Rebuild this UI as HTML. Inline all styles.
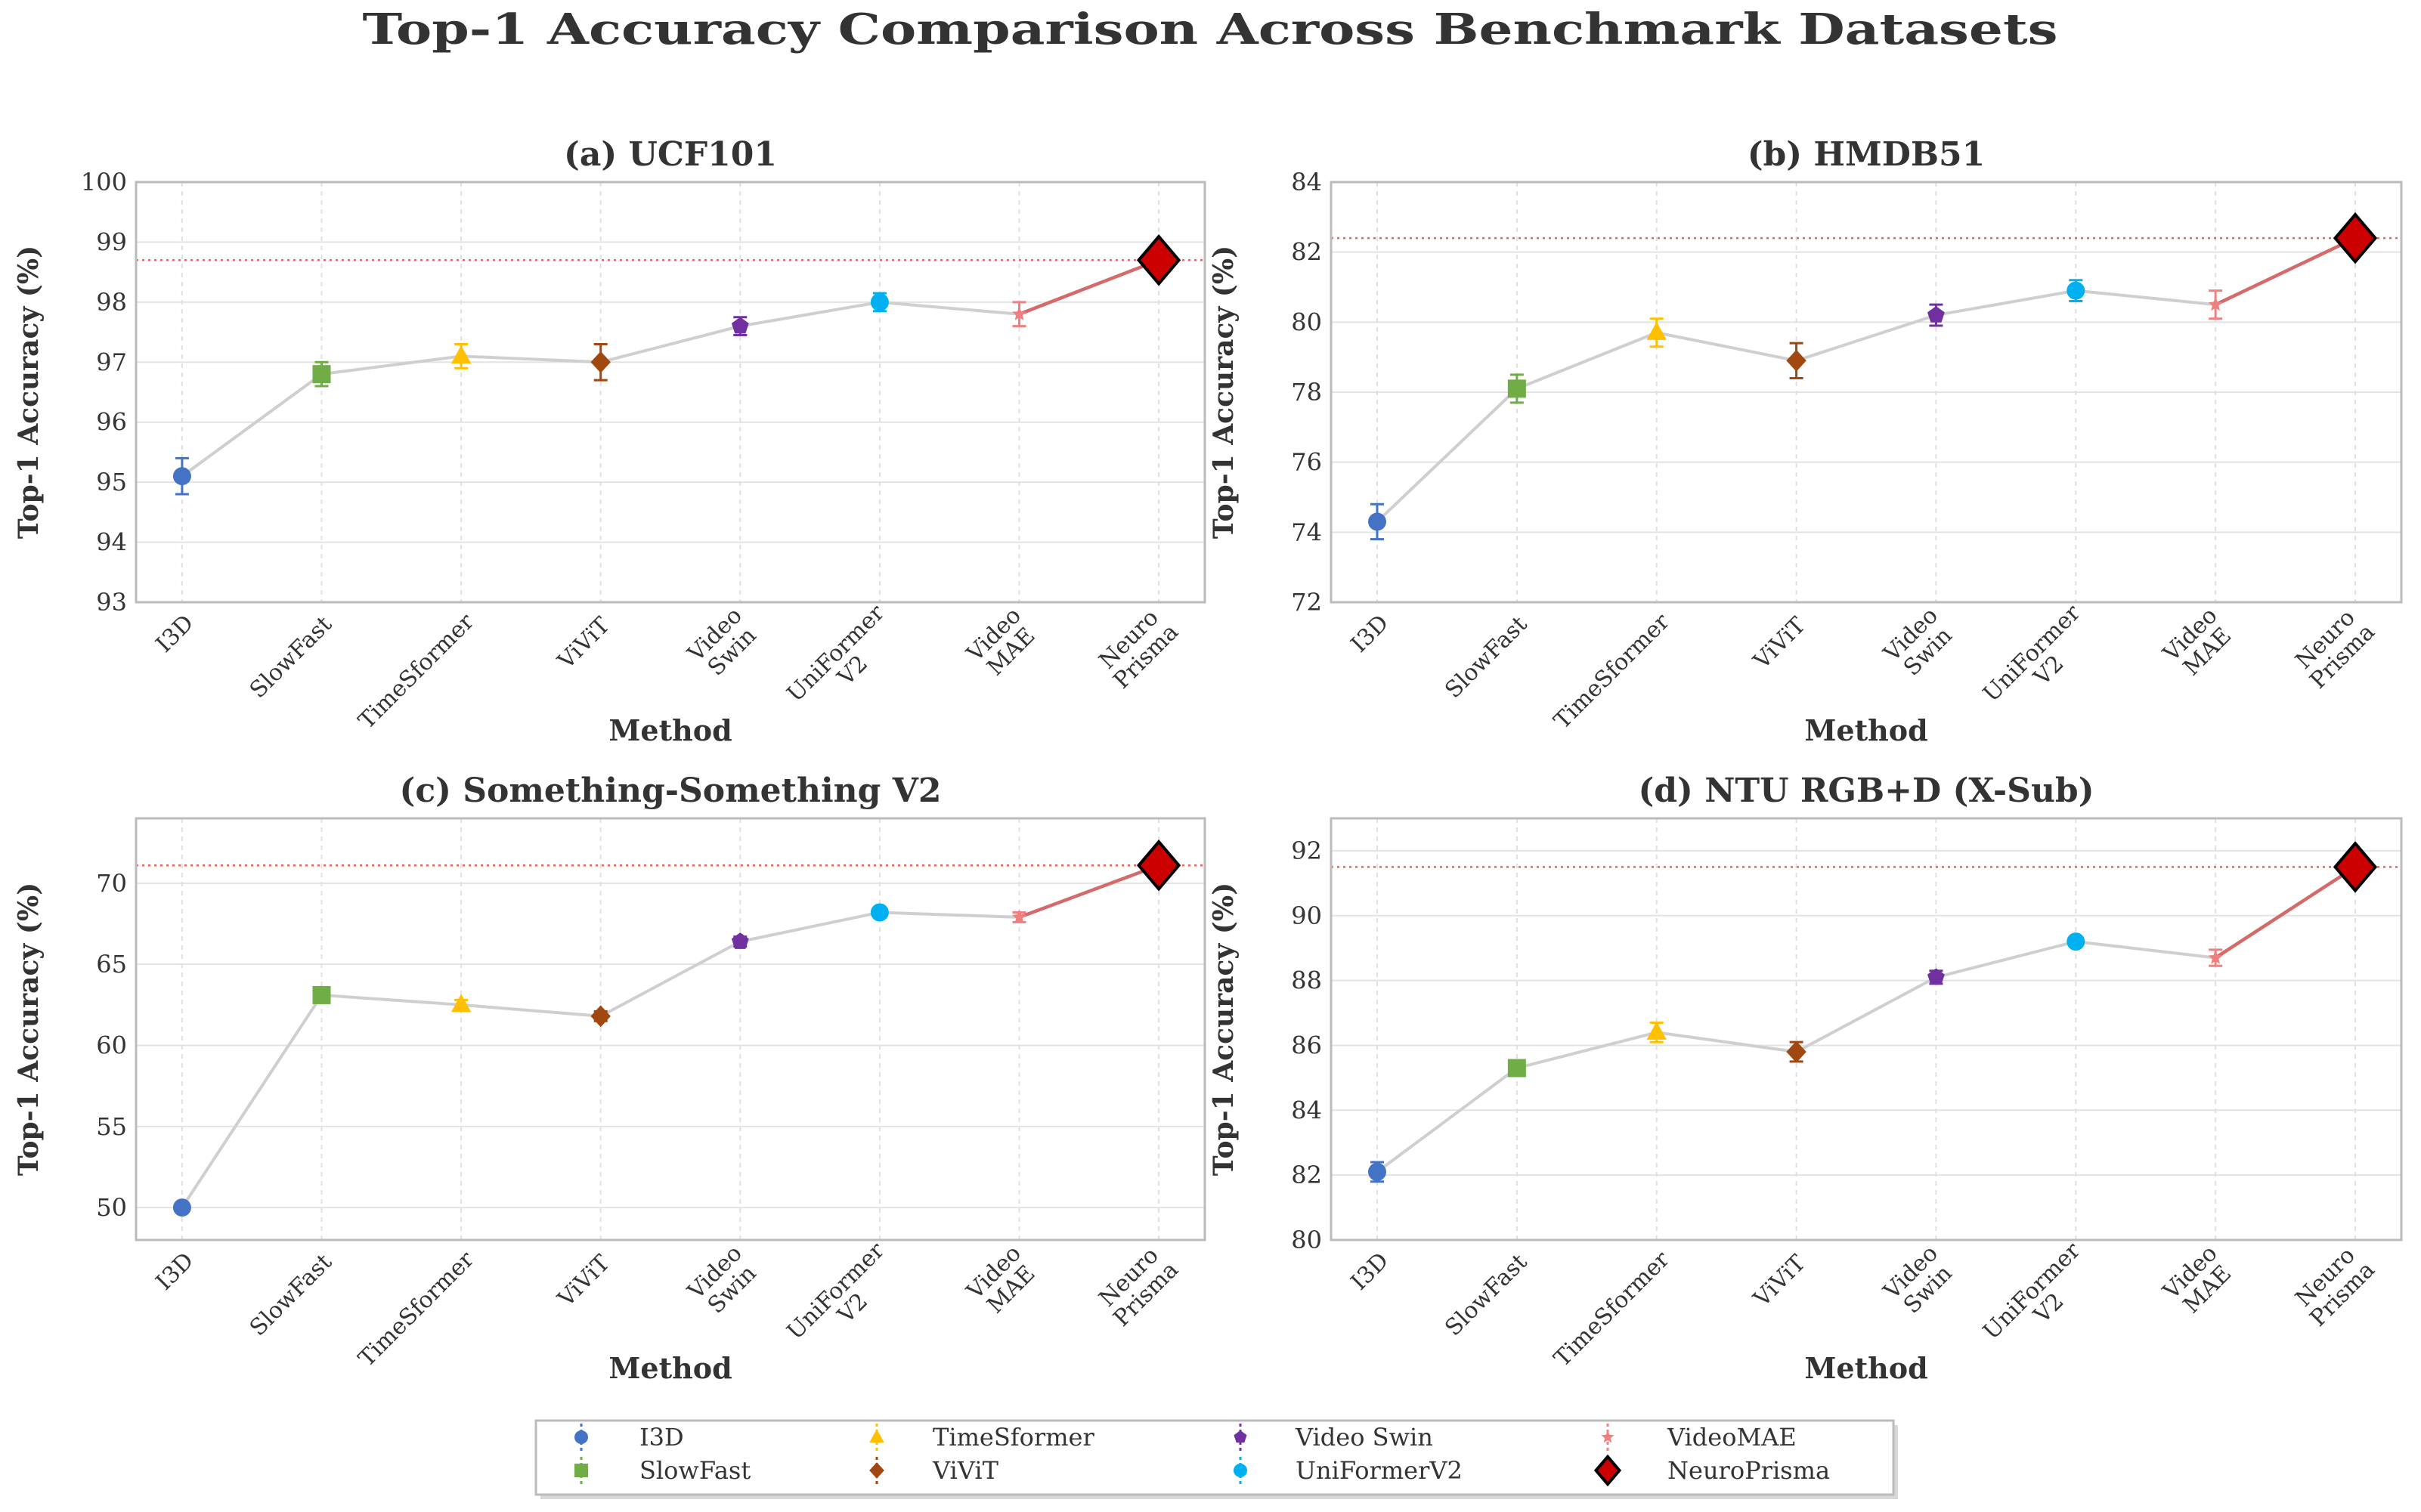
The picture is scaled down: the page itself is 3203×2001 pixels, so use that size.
<!DOCTYPE html>
<html><head><meta charset="utf-8"><style>
html,body{margin:0;padding:0;background:#fff;}
svg{display:block;font-family:"DejaVu Serif","Liberation Serif",serif;}
</style></head><body>
<svg id="fig" width="3203" height="2001" viewBox="0 0 3203 2001" xmlns="http://www.w3.org/2000/svg">
<rect width="3203" height="2001" fill="#fff"/>
<text x="1601" y="58" text-anchor="middle" font-size="56" font-weight="bold" fill="#333" textLength="2243" lengthAdjust="spacingAndGlyphs">Top-1 Accuracy Comparison Across Benchmark Datasets</text>
</svg>
<script>
const methods = ["I3D","SlowFast","TimeSformer","ViViT","Video Swin","UniFormerV2","VideoMAE","NeuroPrisma"];
const tickLabels = [["I3D"],["SlowFast"],["TimeSformer"],["ViViT"],["Video","Swin"],["UniFormer","V2"],["Video","MAE"],["Neuro","Prisma"]];
const panelTitles = ["(a) UCF101","(b) HMDB51","(c) Something-Something V2","(d) NTU RGB+D (X-Sub)"];
const ucfVals = [95.1,96.8,97.1,97.0,97.6,98.0,97.8,98.7];
const ucfErr = [0.3,0.2,0.2,0.3,0.15,0.15,0.2,0];
const hmdbVals = [74.3,78.1,79.7,78.9,80.2,80.9,80.5,82.4];
const hmdbErr = [0.5,0.4,0.4,0.5,0.3,0.3,0.4,0];
const sthVals = [50.0,63.1,62.5,61.8,66.4,68.2,67.9,71.1];
const sthErr = [0.3,0.3,0.3,0.3,0.3,0.3,0.3,0];
const ntuVals = [82.1,85.3,86.4,85.8,88.1,89.2,88.7,91.5];
const ntuErr = [0.3,0.2,0.3,0.3,0.2,0.15,0.25,0];
const ucfTicks = [93,94,95,96,97,98,99,100];
const hmdbTicks = [72,74,76,78,80,82,84];
const sthTicks = [50,55,60,65,70];
const ntuTicks = [80,82,84,86,88,90,92];
const colors = ["#4472C4","#70AD47","#FFC000","#A0480F","#7030A0","#00B0F0","#F08080","#CC0000"];

const NS="http://www.w3.org/2000/svg";
const svg=document.getElementById('fig');
function mk(tag,attrs,parent){const e=document.createElementNS(NS,tag);for(const k in attrs)e.setAttribute(k,attrs[k]);(parent||svg).appendChild(e);return e;}

function marker(g,i,cx,cy,s){
  const c=colors[i];let e;
  if(i===0||i===5){e=mk('circle',{cx:cx,cy:cy,r:s,fill:c},g);}
  else if(i===1){e=mk('rect',{x:cx-s,y:cy-s,width:2*s,height:2*s,fill:c},g);}
  else if(i===2){e=mk('polygon',{points:`${cx},${cy-s*1.2} ${cx-s*1.1},${cy+s*0.8} ${cx+s*1.1},${cy+s*0.8}`,fill:c},g);}
  else if(i===3){e=mk('polygon',{points:`${cx},${cy-s*1.2} ${cx+s*1.1},${cy} ${cx},${cy+s*1.2} ${cx-s*1.1},${cy}`,fill:c},g);}
  else if(i===4){let p=[];for(let k=0;k<5;k++){const a=-Math.PI/2+k*2*Math.PI/5;p.push((cx+s*Math.cos(a))+','+(cy+s*Math.sin(a)));}e=mk('polygon',{points:p.join(' '),fill:c},g);}
  else if(i===6){let p=[];for(let k=0;k<10;k++){const a=-Math.PI/2+k*Math.PI/5;const r=k%2?s*0.45:s;p.push((cx+r*Math.cos(a))+','+(cy+r*Math.sin(a)));}e=mk('polygon',{points:p.join(' '),fill:c},g);}
  else {const S=s*2.6;e=mk('polygon',{points:`${cx},${cy-S} ${cx+S*0.85},${cy} ${cx},${cy+S} ${cx-S*0.85},${cy}`,fill:c,stroke:"#000","stroke-width":4},g);}
  return e;
}

function panel(idx,L,T,R,B,ymin,ymax,ticks,vals,errs){
  const g=mk('g',{});
  
  
  const xs=i=>L+(R-L)*(i+0.33)/7.66;
  const ys=v=>B-(B-T)*(v-ymin)/(ymax-ymin);
  ticks.forEach(t=>{const l=mk('line',{x1:L,x2:R,y1:ys(t),y2:ys(t),stroke:"#e3e3e3","stroke-width":2},g);
    });
  methods.forEach((m,i)=>{const l=mk('line',{x1:xs(i),x2:xs(i),y1:T,y2:B,stroke:"#e0e0e0","stroke-width":2,"stroke-dasharray":"6,6"},g);
    });
  const bl=mk('line',{x1:L,x2:R,y1:ys(vals[7]),y2:ys(vals[7]),stroke:"#E06666","stroke-width":2.5,"stroke-dasharray":"3,5"},g);
  
  const fr=mk('rect',{x:L,y:T,width:R-L,height:B-T,fill:"none",stroke:"#bbb","stroke-width":3},g);
  
  let pts=[];for(let i=0;i<7;i++)pts.push(xs(i)+','+ys(vals[i]));
  const pl=mk('polyline',{points:pts.join(' '),fill:"none",stroke:"#cfcfcf","stroke-width":4},g);
  
  const rl=mk('line',{x1:xs(6),y1:ys(vals[6]),x2:xs(7),y2:ys(vals[7]),stroke:"#D46A6A","stroke-width":4.5},g);
  
  methods.forEach((m,i)=>{
    const cx=xs(i),cy=ys(vals[i]);
    if(errs[i]>0){const e1=ys(vals[i]+errs[i]),e2=ys(vals[i]-errs[i]);
      const eb=mk('path',{d:`M${cx},${e1}V${e2}M${cx-9},${e1}H${cx+9}M${cx-9},${e2}H${cx+9}`,stroke:colors[i],"stroke-width":3,fill:"none"},g);
      }
    const mm=marker(g,i,cx,cy,i===6?10:12);
    
    
  });
  ticks.forEach(t=>{const tx=mk('text',{x:L-12,y:ys(t)+11,"text-anchor":"end","font-size":32,fill:"#333"},g);tx.textContent=t;
    });
  tickLabels.forEach((lines,i)=>{
    const x=xs(i)+6,y=B+20;
    const tx=mk('text',{"font-size":30,fill:"#333"},g);
    lines.forEach((ln,k)=>{const ts=mk('tspan',{x:0,dy:k===0?(lines.length>1?-2:14):32,"text-anchor":"middle"},tx);ts.textContent=ln;});
    tx.setAttribute('transform',`translate(${x},${y}) rotate(-45) translate(${-(Math.max(...lines.map(s=>s.length))*8.8)},0)`);
    
  });
  const tt=mk('text',{x:(L+R)/2,y:T-22,"text-anchor":"middle","font-size":44,"font-weight":"bold",fill:"#333"},g);tt.textContent=panelTitles[idx];
  
  const yl=mk('text',{transform:`translate(${L-130},${(T+B)/2}) rotate(-90)`,"text-anchor":"middle","font-size":36,"font-weight":"bold",fill:"#333"},g);yl.textContent="Top-1 Accuracy (%)";
  
  const xl=mk('text',{x:(L+R)/2,y:B+183,"text-anchor":"middle","font-size":38,"font-weight":"bold",fill:"#333"},g);xl.textContent="Method";
  
}
panel(0,180,241,1594,797,93,100,ucfTicks,ucfVals,ucfErr);
panel(1,1761,241,3177,797,72,84,hmdbTicks,hmdbVals,hmdbErr);
panel(2,180,1083,1594,1641,48,74,sthTicks,sthVals,sthErr);
panel(3,1761,1083,3177,1641,80,93,ntuTicks,ntuVals,ntuErr);

const lg=mk('g',{});


mk('rect',{x:715,y:1886,width:1796,height:98,fill:"#d8d8d8"},lg);
mk('rect',{x:709,y:1880,width:1796,height:98,fill:"#fff",stroke:"#bbb","stroke-width":3},lg);
const colX=[769,1160,1641,2127],textX=[846,1234,1714,2206],rowY=[1902,1946];
methods.forEach((m,i)=>{
  const c=Math.floor(i/2),r=i%2;
  const cx=colX[c],cy=rowY[r];
  const it=mk('g',{},lg);
  
  
  if(i!==7)mk('line',{x1:cx,x2:cx,y1:cy-18,y2:cy+18,stroke:colors[i],"stroke-width":3,"stroke-dasharray":"4,4"},it);
  marker(it,i,cx,cy,i===7?7:9);
  const t=mk('text',{x:textX[c],y:cy+11,"font-size":32,fill:"#333"},it);t.textContent=m;
});
</script>
</body></html>
